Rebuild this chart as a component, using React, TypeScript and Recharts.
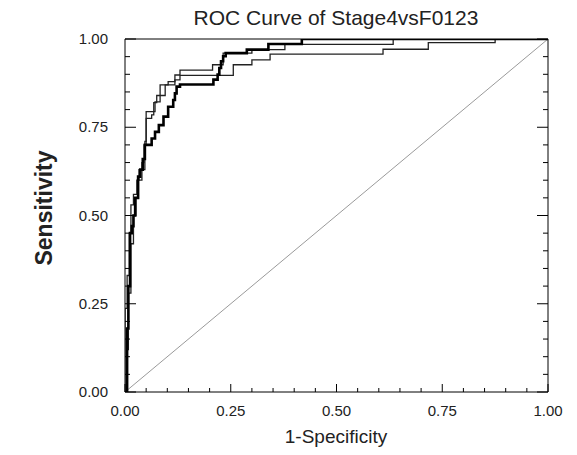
import React from "react";
import { LineChart, Line, XAxis, YAxis } from "recharts";

// ROC step curves: at each false positive rate
// the sensitivity steps up to the listed value.
const fprThick = [0, 0.005, 0.008, 0.012, 0.016, 0.02, 0.024, 0.031, 0.036, 0.042, 0.047, 0.063, 0.071, 0.08, 0.091, 0.102, 0.114, 0.118, 0.122, 0.13, 0.209, 0.219, 0.223, 0.227, 0.232, 0.238, 0.288, 0.339, 0.418, 1];
const tprThick = [0, 0.18, 0.3, 0.45, 0.47, 0.5, 0.55, 0.61, 0.63, 0.66, 0.7, 0.718, 0.737, 0.756, 0.78, 0.808, 0.827, 0.846, 0.865, 0.871, 0.885, 0.899, 0.918, 0.937, 0.951, 0.96, 0.97, 0.986, 1, 1];

const fprThinA = [0, 0, 0.005, 0.01, 0.014, 0.02, 0.028, 0.033, 0.047, 0.05, 0.071, 0.083, 0.102, 0.118, 0.13, 0.207, 0.232, 0.3, 0.378, 0.634, 1];
const tprThinA = [0, 0.237, 0.33, 0.45, 0.53, 0.56, 0.6, 0.63, 0.71, 0.794, 0.822, 0.87, 0.879, 0.898, 0.912, 0.927, 0.96, 0.97, 0.985, 1, 1];

const fprThinB = [0, 0.004, 0.008, 0.014, 0.02, 0.026, 0.03, 0.04, 0.045, 0.05, 0.063, 0.068, 0.075, 0.095, 0.118, 0.13, 0.256, 0.3, 0.343, 0.61, 0.717, 0.875, 1];
const tprThinB = [0, 0.12, 0.28, 0.42, 0.5, 0.55, 0.6, 0.65, 0.7, 0.775, 0.785, 0.82, 0.84, 0.87, 0.884, 0.897, 0.927, 0.941, 0.957, 0.971, 0.99, 1, 1];

const chanceLine = [0, 1];

const axisTicks = [0, 0.05, 0.1, 0.15, 0.2, 0.25, 0.3, 0.35, 0.4, 0.45, 0.5, 0.55, 0.6, 0.65, 0.7, 0.75, 0.8, 0.85, 0.9, 0.95, 1];
const majorTicks = [0, 0.25, 0.5, 0.75, 1];

const zip = (xs: number[], ys: number[]) => xs.map((x, i) => ({ x, y: ys[i] }));

const thickData = zip(fprThick, tprThick);
const thinAData = zip(fprThinA, tprThinA);
const thinBData = zip(fprThinB, tprThinB);
const chanceData = zip(chanceLine, chanceLine);

const FONT = '"Liberation Sans", Arial, sans-serif';
const isMajor = (v: number) => majorTicks.some((m) => Math.abs(m - v) < 1e-6);

function BottomTick({ x, y, payload }: any) {
  const major = isMajor(payload.value);
  return (
    <g>
      <line x1={x} x2={x} y1={y} y2={y - (major ? 8 : 4)} stroke="#000" />
      {major && (
        <text x={x} y={y + 24} textAnchor="middle" fontSize={15} fontFamily={FONT} fill="#222">
          {payload.value.toFixed(2)}
        </text>
      )}
    </g>
  );
}

function TopTick({ x, y, payload }: any) {
  const major = isMajor(payload.value);
  return <line x1={x} x2={x} y1={y} y2={y + (major ? 8 : 4)} stroke="#000" />;
}

function LeftTick({ x, y, payload }: any) {
  const major = isMajor(payload.value);
  return (
    <g>
      <line x1={x} x2={x + (major ? 11 : 5)} y1={y} y2={y} stroke="#000" />
      {major && (
        <text x={x - 17} y={y + 5} textAnchor="end" fontSize={15} fontFamily={FONT} fill="#222">
          {payload.value.toFixed(2)}
        </text>
      )}
    </g>
  );
}

function RightTick({ x, y, payload }: any) {
  const major = isMajor(payload.value);
  return <line x1={x} x2={x - (major ? 11 : 5)} y1={y} y2={y} stroke="#000" />;
}

export default function App() {
  return (
    <div style={{ position: "relative", width: 577, height: 455 }}>
      <style>{"body{margin:0}"}</style>
      <LineChart width={577} height={455} margin={{ top: 38, right: 28, bottom: 1, left: 65 }}>
        <XAxis
          dataKey="x"
          type="number"
          domain={[0, 1]}
          ticks={axisTicks}
          interval={0}
          height={62}
          tickSize={0}
          tickMargin={0}
          tick={<BottomTick />}
          axisLine={{ stroke: "#000" }}
          allowDataOverflow
        />
        <XAxis
          xAxisId="top"
          orientation="top"
          type="number"
          domain={[0, 1]}
          ticks={axisTicks}
          interval={0}
          height={1}
          tickSize={0}
          tickMargin={0}
          tick={<TopTick />}
          axisLine={{ stroke: "#000" }}
          allowDataOverflow
        />
        <YAxis
          type="number"
          domain={[0, 1]}
          ticks={axisTicks}
          interval={0}
          width={60}
          tickSize={0}
          tickMargin={0}
          tick={<LeftTick />}
          axisLine={{ stroke: "#000" }}
          allowDataOverflow
        />
        <YAxis
          yAxisId="right"
          orientation="right"
          type="number"
          domain={[0, 1]}
          ticks={axisTicks}
          interval={0}
          width={1}
          tickSize={0}
          tickMargin={0}
          tick={<RightTick />}
          axisLine={{ stroke: "#000" }}
          allowDataOverflow
        />
        <Line data={chanceData} dataKey="y" type="linear" stroke="#9a9a9a" strokeWidth={1} dot={false} isAnimationActive={false} />
        <Line data={thinBData} dataKey="y" type="stepAfter" stroke="#222" strokeWidth={1.3} dot={false} isAnimationActive={false} />
        <Line data={thinAData} dataKey="y" type="stepAfter" stroke="#222" strokeWidth={1.3} dot={false} isAnimationActive={false} />
        <Line data={thickData} dataKey="y" type="stepAfter" stroke="#000" strokeWidth={2.6} dot={false} isAnimationActive={false} />
      </LineChart>
      <svg width={577} height={455} style={{ position: "absolute", left: 0, top: 0, pointerEvents: "none" }}>
        <text x={336} y={25} textAnchor="middle" fontSize={21} fontFamily={FONT} fill="#222">
          ROC Curve of Stage4vsF0123
        </text>
        <text x={336} y={443} textAnchor="middle" fontSize={19} fontFamily={FONT} fill="#222">
          1-Specificity
        </text>
        <text
          x={52}
          y={208}
          transform="rotate(-90 52 208)"
          textAnchor="middle"
          fontSize={23}
          fontWeight="bold"
          fontFamily={FONT}
          fill="#222"
        >
          Sensitivity
        </text>
      </svg>
    </div>
  );
}
